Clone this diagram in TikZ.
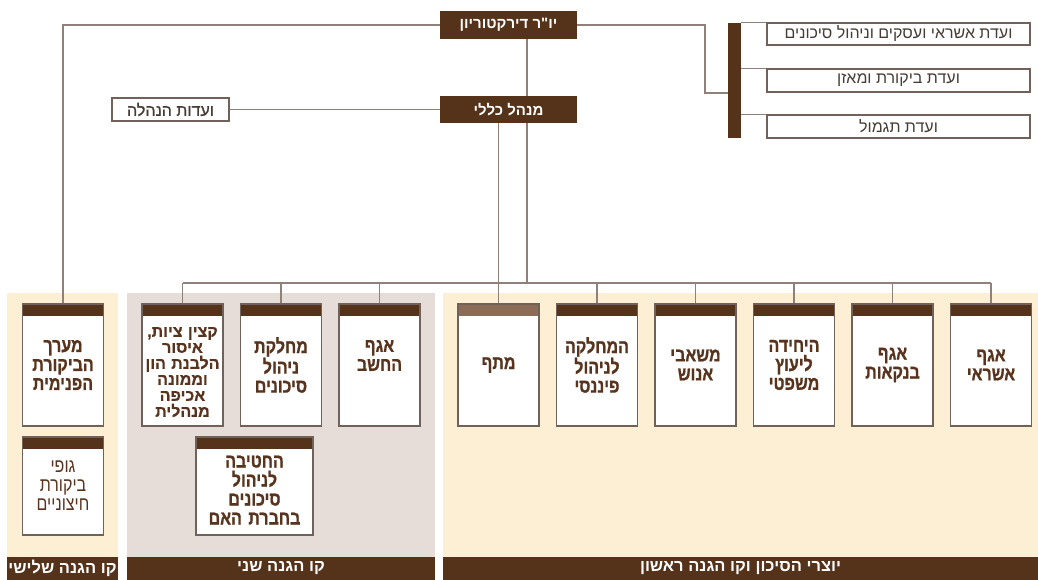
\documentclass[tikz,border=0pt]{standalone}
\usepackage{fontspec}
\usetikzlibrary{positioning,calc}
\TeXXeTstate=1
\newfontfamily\hebfont[Script=Hebrew]{Liberation Sans}
\newfontfamily\hebmed[Script=Hebrew,FakeBold=0.8]{Liberation Sans}
\newfontfamily\hebheavy[Script=Hebrew,FakeStretch=0.82,FakeBold=0.8]{Liberation Sans Bold}
\newfontfamily\hebwide[Script=Hebrew,FakeBold=0.6]{Liberation Sans Bold}
\newfontfamily\hebtall[Script=Hebrew,FakeStretch=0.82]{Liberation Sans}
\newfontfamily\hebbold[Script=Hebrew]{Liberation Sans Bold}
\newcommand{\heb}[1]{\beginR #1\endR}

\definecolor{hdrbrown}{RGB}{85,50,26}
\definecolor{matafbrown}{RGB}{140,108,86}
\definecolor{boxline}{RGB}{112,98,90}
\definecolor{connline}{RGB}{143,128,121}
\definecolor{unittext}{RGB}{88,52,30}
\definecolor{commtext}{RGB}{70,60,54}
\definecolor{firstbg}{RGB}{253,239,211}
\definecolor{secondbg}{RGB}{230,221,216}

\tikzset{
  conn/.style={draw=connline, line width=1.2pt},
  topbox/.style={fill=hdrbrown, text=white, minimum width=137pt, minimum height=28pt,
    inner sep=0pt, font=\hebbold\fontsize{15}{17}\selectfont},
  committee/.style={draw=boxline, line width=1.1pt, fill=white, minimum width=263pt,
    minimum height=22pt, inner sep=0pt, text=commtext, font=\hebfont\fontsize{16}{18}\selectfont},
  unitbox/.style={draw=boxline, line width=1.3pt, fill=white, minimum width=81pt,
    minimum height=122pt, inner sep=0pt, text width=80pt, align=center, text=unittext,
    font=\hebheavy\fontsize{19.5}{19}\selectfont,
    path picture={\fill[hdrbrown] (path picture bounding box.north west)
      rectangle ([yshift=-12pt]path picture bounding box.north east);}},
  footer/.style={fill=hdrbrown, text=white, minimum height=23pt, inner sep=0pt,
    font=\hebbold\fontsize{16.5}{18}\selectfont}
}

\begin{document}
\begin{tikzpicture}[x=1pt, y=-1pt]
	\useasboundingbox (0,0) rectangle (1038,580);

	% Backgrounds of the three lines of defence
	\fill[firstbg] (7,293) rectangle (118,557);
	\fill[secondbg] (127,293) rectangle (435,557);
	\fill[firstbg] (443,293) rectangle (1038,557);

	% Top management
	\node[topbox] (chair) at (508.5,25) {\heb{יו"ר דירקטוריון}};
	\node[topbox, minimum height=27pt] (ceo) at (508.5,109.5) {\heb{מנהל כללי}};
	\node[committee, minimum width=117pt, minimum height=23pt, font=\hebmed\fontsize{16}{18}\selectfont] (hanhala) at (170.5,109.5) {\heb{ועדות הנהלה}};

	% Board committees
	\node[fill=hdrbrown, minimum width=13pt, minimum height=115pt, inner sep=0pt] (bar) at (734.5,80.5) {};
	\node[committee] (credit) at (898.5,34) {\heb{ועדת אשראי ועסקים וניהול סיכונים}};
	\node[committee, minimum height=23pt] (auditc) at (898.5,80.5) {\heb{ועדת ביקורת ומאזן}};
	\node[committee, minimum height=23pt] (reward) at (898.5,126.5) {\heb{ועדת תגמול}};

	% First line - risk takers
	\node[unitbox] (ashrai) at (991,365) {\heb{אגף}\\\heb{אשראי}};
	\node[unitbox] (bankaut) at (892.5,365) {\heb{אגף}\\\heb{בנקאות}};
	\node[unitbox] (legal) at (794,365) {\heb{היחידה}\\\heb{ליעוץ}\\\heb{משפטי}};
	\node[unitbox] (hr) at (695.5,365) {\heb{משאבי}\\\heb{אנוש}};
	\node[unitbox] (finance) at (597,365) {\heb{המחלקה}\\\heb{לניהול}\\\heb{פיננסי}};
	\node[unitbox, path picture={\fill[matafbrown] (path picture bounding box.north west)
	  rectangle ([yshift=-12pt]path picture bounding box.north east);}] (mataf) at (498.5,365) {\heb{מתף}};

	% Second line
	\node[unitbox] (hashav) at (379.5,365) {\heb{אגף}\\\heb{החשב}\\\mbox{}};
	\node[unitbox] (risk) at (281,365) {\heb{מחלקת}\\\heb{ניהול}\\\heb{סיכונים}};
	\node[unitbox, font=\hebwide\fontsize{16}{16}\selectfont] (kazin) at (182.5,365)
	  {\rule{0pt}{24pt}\heb{קצין ציות,}\\\heb{איסור}\\\heb{הלבנת הון}\\\heb{וממונה}\\\heb{אכיפה}\\\heb{מנהלית}};
	\node[unitbox, minimum width=117pt, minimum height=98pt, text width=110pt] (parent) at (254.5,486)
	  {\rule{0pt}{20pt}\heb{החטיבה}\\\heb{לניהול}\\\heb{סיכונים}\\\heb{בחברת האם}};

	% Third line
	\node[unitbox] (audit) at (63,365) {\heb{מערך}\\\heb{הביקורת}\\\heb{הפנימית}};
	\node[unitbox, minimum height=98pt, font=\hebtall\fontsize{19.5}{19}\selectfont] (external) at (63,486)
	  {\heb{גופי}\\\heb{ביקורת}\\\heb{חיצוניים}};

	% Footers
	\node[footer, minimum width=111pt] (thirdline) at (62.5,568.5) {\heb{קו הגנה שלישי}};
	\node[footer, minimum width=308pt] (secondline) at (281,568.5) {\heb{קו הגנה שני}};
	\node[footer, minimum width=595pt] (firstline) at (740.5,568.5) {\heb{יוצרי הסיכון וקו הגנה ראשון}};

	% Connectors
	\coordinate (trunk) at (527,0);
	\coordinate (bus) at (0,283);
	\coordinate (elbow) at (705,93);
	\draw[conn] (chair.south -| trunk) -- (ceo.north -| trunk);
	\draw[conn] (ceo.south -| trunk) -- (trunk |- bus);
	\draw[conn] (ceo.south -| mataf.north) -- (mataf.north);
	\draw[conn] (ceo.west) -- (hanhala.east);
	\draw[conn] (chair.west) -| (audit.north);
	\draw[conn] (chair.east) -| (elbow) -- (bar.west |- elbow);
	\draw[conn] (bar.east |- credit.north west) -- (credit.north west);
	\draw[conn] (bar.east |- auditc.north west) -- (auditc.north west);
	\draw[conn] (bar.east |- reward.north west) -- (reward.north west);
	\draw[conn] (kazin.north |- bus) -- (ashrai.north |- bus);
	\foreach \u in {kazin,risk,hashav,finance,hr,legal,bankaut,ashrai}
		\draw[conn] (\u.north |- bus) -- (\u.north);
\end{tikzpicture}
\end{document}
